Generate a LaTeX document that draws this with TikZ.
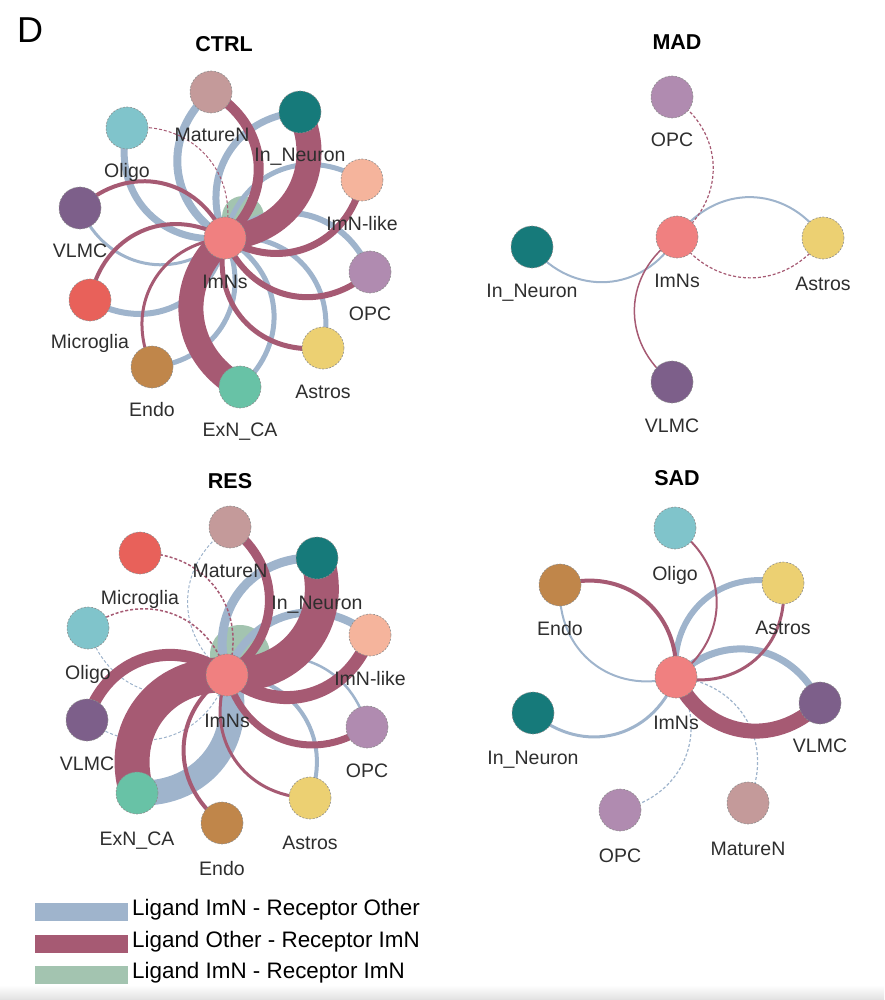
\documentclass[tikz,border=0pt]{standalone}
\usepackage{fontspec}
\setmainfont{Liberation Sans}
\pgfdeclarelayer{edges}
\pgfsetlayers{edges,main}
\definecolor{eb}{HTML}{9FB4CC}
\definecolor{em}{HTML}{A65A73}
\definecolor{eg}{HTML}{A3C4B0}
\definecolor{kImNs}{HTML}{F08080}
\definecolor{kMat}{HTML}{C49A9A}
\definecolor{kIn}{HTML}{167A7A}
\definecolor{kIl}{HTML}{F5B49C}
\definecolor{kOpc}{HTML}{B08BB0}
\definecolor{kAst}{HTML}{ECD072}
\definecolor{kExn}{HTML}{68C2A6}
\definecolor{kEnd}{HTML}{C0864A}
\definecolor{kMic}{HTML}{E8615A}
\definecolor{kVl}{HTML}{7D5F8A}
\definecolor{kOl}{HTML}{80C4CB}
\tikzset{
  cell/.style={circle, minimum size=42pt, inner sep=0pt, draw=black!45, dash pattern=on 2pt off 1.5pt, line width=0.6pt, fill=#1},
  lab/.style={anchor=base, font=\fontsize{19.5}{20}\selectfont, text=black!82, inner sep=0pt},
  ttl/.style={font=\fontsize{21.5}{22}\selectfont\bfseries, inner sep=0pt},
  bl/.style={draw=eb, line width=#1},
  mr/.style={draw=em, line width=#1},
  dsh/.style={dash pattern=on 3pt off 2pt},
  cw/.style={bend right=55, looseness=1.15},
  ccw/.style={bend left=55, looseness=1.15},
  legtxt/.style={anchor=west, font=\fontsize{22.4}{24}\selectfont, inner sep=0pt}
}
\begin{document}
\begin{tikzpicture}[x=1pt,y=1pt]
\useasboundingbox (0,0) rectangle (884,-1000);
\shade[top color=white, bottom color=black!12] (0,-985) rectangle (884,-1000);
\node[font=\fontsize{36}{36}\selectfont, inner sep=0pt] (D) at (30,-30) {D};
% ===== CTRL =====
\node[ttl] (tC) at (224,-44) {CTRL};
\node[cell=kImNs] (cI) at (225,-238) {};
\node[cell=kMat] (cMat) at (211,-92) {};
\node[cell=kIn] (cIn) at (300,-112) {};
\node[cell=kIl] (cIl) at (362,-180) {};
\node[cell=kOpc] (cOpc) at (370,-272) {};
\node[cell=kAst] (cAst) at (323,-348) {};
\node[cell=kExn] (cExn) at (240,-387) {};
\node[cell=kEnd] (cEnd) at (152,-367) {};
\node[cell=kMic] (cMic) at (90,-300) {};
\node[cell=kVl] (cVl) at (80,-208) {};
\node[cell=kOl] (cOl) at (127,-128) {};
\node[lab] (lcMat) at (212,-142) {MatureN};
\node[lab] (lcIn) at (300,-162) {In\_Neuron};
\node[lab] (lcOl) at (127,-178) {Oligo};
\node[lab] (lcIl) at (362,-231) {ImN-like};
\node[lab] (lcVl) at (80,-258) {VLMC};
\node[lab] (lcI) at (225,-288) {ImNs};
\node[lab] (lcOpc) at (370,-320) {OPC};
\node[lab] (lcMic) at (90,-348) {Microglia};
\node[lab] (lcAst) at (323,-398) {Astros};
\node[lab] (lcEnd) at (152,-416) {Endo};
\node[lab] (lcExn) at (240,-436) {ExN\_CA};
\begin{pgfonlayer}{edges}
\fill[eg] (243,-217) coordinate (cG) circle (21);
\draw[bl=8] (cI.center) to[ccw] (cMat.center);
\draw[bl=7] (cI.center) to[ccw] (cIn.center);
\draw[bl=5] (cI.center) to[ccw] (cIl.center);
\draw[bl=6] (cI.center) to[ccw] (cOpc.center);
\draw[bl=5] (cI.center) to[ccw] (cAst.center);
\draw[bl=5] (cI.center) to[ccw] (cExn.center);
\draw[bl=5] (cI.center) to[ccw] (cEnd.center);
\draw[bl=6] (cI.center) to[ccw] (cMic.center);
\draw[bl=3] (cI.center) to[ccw] (cVl.center);
\draw[bl=7] (cI.center) to[ccw] (cOl.center);
\draw[mr=10] (cI.center) to[cw] (cMat.center);
\draw[mr=25] (cI.center) to[cw] (cIn.center);
\draw[mr=7] (cI.center) to[cw] (cIl.center);
\draw[mr=6] (cI.center) to[cw] (cOpc.center);
\draw[mr=5] (cI.center) to[cw] (cAst.center);
\draw[mr=25] (cI.center) to[cw] (cExn.center);
\draw[mr=3] (cI.center) to[cw] (cEnd.center);
\draw[mr=4] (cI.center) to[cw] (cMic.center);
\draw[mr=4] (cI.center) to[cw] (cVl.center);
\draw[mr=1, dsh] (cI.center) to[cw] (cOl.center);
\end{pgfonlayer}
% ===== MAD =====
\node[ttl] (tM) at (677,-42) {MAD};
\node[cell=kImNs] (mI) at (677,-237) {};
\node[cell=kOpc] (mOpc) at (672,-97) {};
\node[cell=kIn] (mIn) at (532,-247) {};
\node[cell=kAst] (mAst) at (823,-238) {};
\node[cell=kVl] (mVl) at (672,-382) {};
\node[lab] (lmOpc) at (672,-147) {OPC};
\node[lab] (lmIn) at (532,-297) {In\_Neuron};
\node[lab] (lmI) at (677,-287) {ImNs};
\node[lab] (lmAst) at (823,-290) {Astros};
\node[lab] (lmVl) at (672,-432) {VLMC};
\begin{pgfonlayer}{edges}
\draw[bl=2] (mI.center) to[ccw] (mIn.center);
\draw[bl=2] (mI.center) to[ccw] (mAst.center);
\draw[mr=1.2, dsh] (mI.center) to[cw] (mOpc.center);
\draw[mr=1.2, dsh] (mI.center) to[cw] (mAst.center);
\draw[mr=1.5] (mI.center) to[cw] (mVl.center);
\end{pgfonlayer}
% ===== RES =====
\node[ttl] (tR) at (230,-481) {RES};
\node[cell=kImNs] (rI) at (227,-675) {};
\node[cell=kMat] (rMat) at (230,-527) {};
\node[cell=kIn] (rIn) at (317,-558) {};
\node[cell=kMic] (rMic) at (140,-553) {};
\node[cell=kOl] (rOl) at (88,-628) {};
\node[cell=kIl] (rIl) at (370,-635) {};
\node[cell=kVl] (rVl) at (87,-720) {};
\node[cell=kOpc] (rOpc) at (367,-727) {};
\node[cell=kExn] (rExn) at (137,-793) {};
\node[cell=kAst] (rAst) at (310,-798) {};
\node[cell=kEnd] (rEnd) at (222,-823) {};
\node[lab] (lrMat) at (230,-577) {MatureN};
\node[lab] (lrMic) at (140,-604) {Microglia};
\node[lab] (lrIn) at (317,-609) {In\_Neuron};
\node[lab] (lrOl) at (88,-679) {Oligo};
\node[lab] (lrIl) at (370,-685) {ImN-like};
\node[lab] (lrI) at (227,-727) {ImNs};
\node[lab] (lrVl) at (87,-770) {VLMC};
\node[lab] (lrOpc) at (367,-777) {OPC};
\node[lab] (lrExn) at (137,-845) {ExN\_CA};
\node[lab] (lrAst) at (310,-849) {Astros};
\node[lab] (lrEnd) at (222,-875) {Endo};
\begin{pgfonlayer}{edges}
\fill[eg] (240,-655) coordinate (rG) circle (30);
\draw[bl=1, dsh] (rI.center) to[ccw] (rMat.center);
\draw[bl=9] (rI.center) to[ccw] (rIn.center);
\draw[bl=8] (rI.center) to[ccw] (rIl.center);
\draw[bl=2.5] (rI.center) to[ccw] (rOpc.center);
\draw[bl=4] (rI.center) to[ccw] (rAst.center);
\draw[bl=25] (rI.center) to[ccw] (rExn.center);
\draw[bl=1, dsh] (rI.center) to[ccw] (rVl.center);
\draw[bl=1, dsh] (rI.center) to[ccw] (rOl.center);
\draw[mr=9] (rI.center) to[cw] (rMat.center);
\draw[mr=34] (rI.center) to[cw] (rIn.center);
\draw[mr=13] (rI.center) to[cw] (rIl.center);
\draw[mr=7] (rI.center) to[cw] (rOpc.center);
\draw[mr=3] (rI.center) to[cw] (rAst.center);
\draw[mr=35] (rI.center) to[cw] (rExn.center);
\draw[mr=4] (rI.center) to[cw] (rEnd.center);
\draw[mr=1.5, dsh] (rI.center) to[cw] (rMic.center);
\draw[mr=12] (rI.center) to[cw] (rVl.center);
\draw[mr=1.5, dsh] (rI.center) to[cw] (rOl.center);
\end{pgfonlayer}
% ===== SAD =====
\node[ttl] (tS) at (677,-478) {SAD};
\node[cell=kImNs] (sI) at (676,-677) {};
\node[cell=kOl] (sOl) at (675,-528) {};
\node[cell=kEnd] (sEnd) at (560,-585) {};
\node[cell=kAst] (sAst) at (783,-583) {};
\node[cell=kIn] (sIn) at (533,-713) {};
\node[cell=kVl] (sVl) at (820,-703) {};
\node[cell=kOpc] (sOpc) at (620,-810) {};
\node[cell=kMat] (sMat) at (748,-803) {};
\node[lab] (lsOl) at (675,-580) {Oligo};
\node[lab] (lsEnd) at (560,-635) {Endo};
\node[lab] (lsAst) at (783,-634) {Astros};
\node[lab] (lsI) at (676,-729) {ImNs};
\node[lab] (lsIn) at (533,-764) {In\_Neuron};
\node[lab] (lsVl) at (820,-752) {VLMC};
\node[lab] (lsOpc) at (620,-862) {OPC};
\node[lab] (lsMat) at (748,-855) {MatureN};
\begin{pgfonlayer}{edges}
\draw[bl=2] (sI.center) to[ccw] (sEnd.center);
\draw[bl=6] (sI.center) to[ccw] (sAst.center);
\draw[bl=7] (sI.center) to[ccw] (sVl.center);
\draw[bl=3] (sI.center) to[ccw] (sIn.center);
\draw[bl=1.2, dsh] (sI.center) to[ccw] (sOpc.center);
\draw[bl=1.2, dsh] (sI.center) to[ccw] (sMat.center);
\draw[mr=2] (sI.center) to[cw] (sOl.center);
\draw[mr=4] (sI.center) to[cw] (sEnd.center);
\draw[mr=3] (sI.center) to[cw] (sAst.center);
\draw[mr=15] (sI.center) to[cw] (sVl.center);
\end{pgfonlayer}
% ===== Legend =====
\fill[eb] (35,-903) rectangle (128,-921) coordinate (lg1);
\fill[em] (35,-935) rectangle (128,-953) coordinate (lg2);
\fill[eg] (35,-966) rectangle (128,-984) coordinate (lg3);
\node[legtxt] (t1) at (132,-910) {Ligand ImN - Receptor Other};
\node[legtxt] (t2) at (132,-942) {Ligand Other - Receptor ImN};
\node[legtxt] (t3) at (132,-973) {Ligand ImN - Receptor ImN};
\end{tikzpicture}
\end{document}
